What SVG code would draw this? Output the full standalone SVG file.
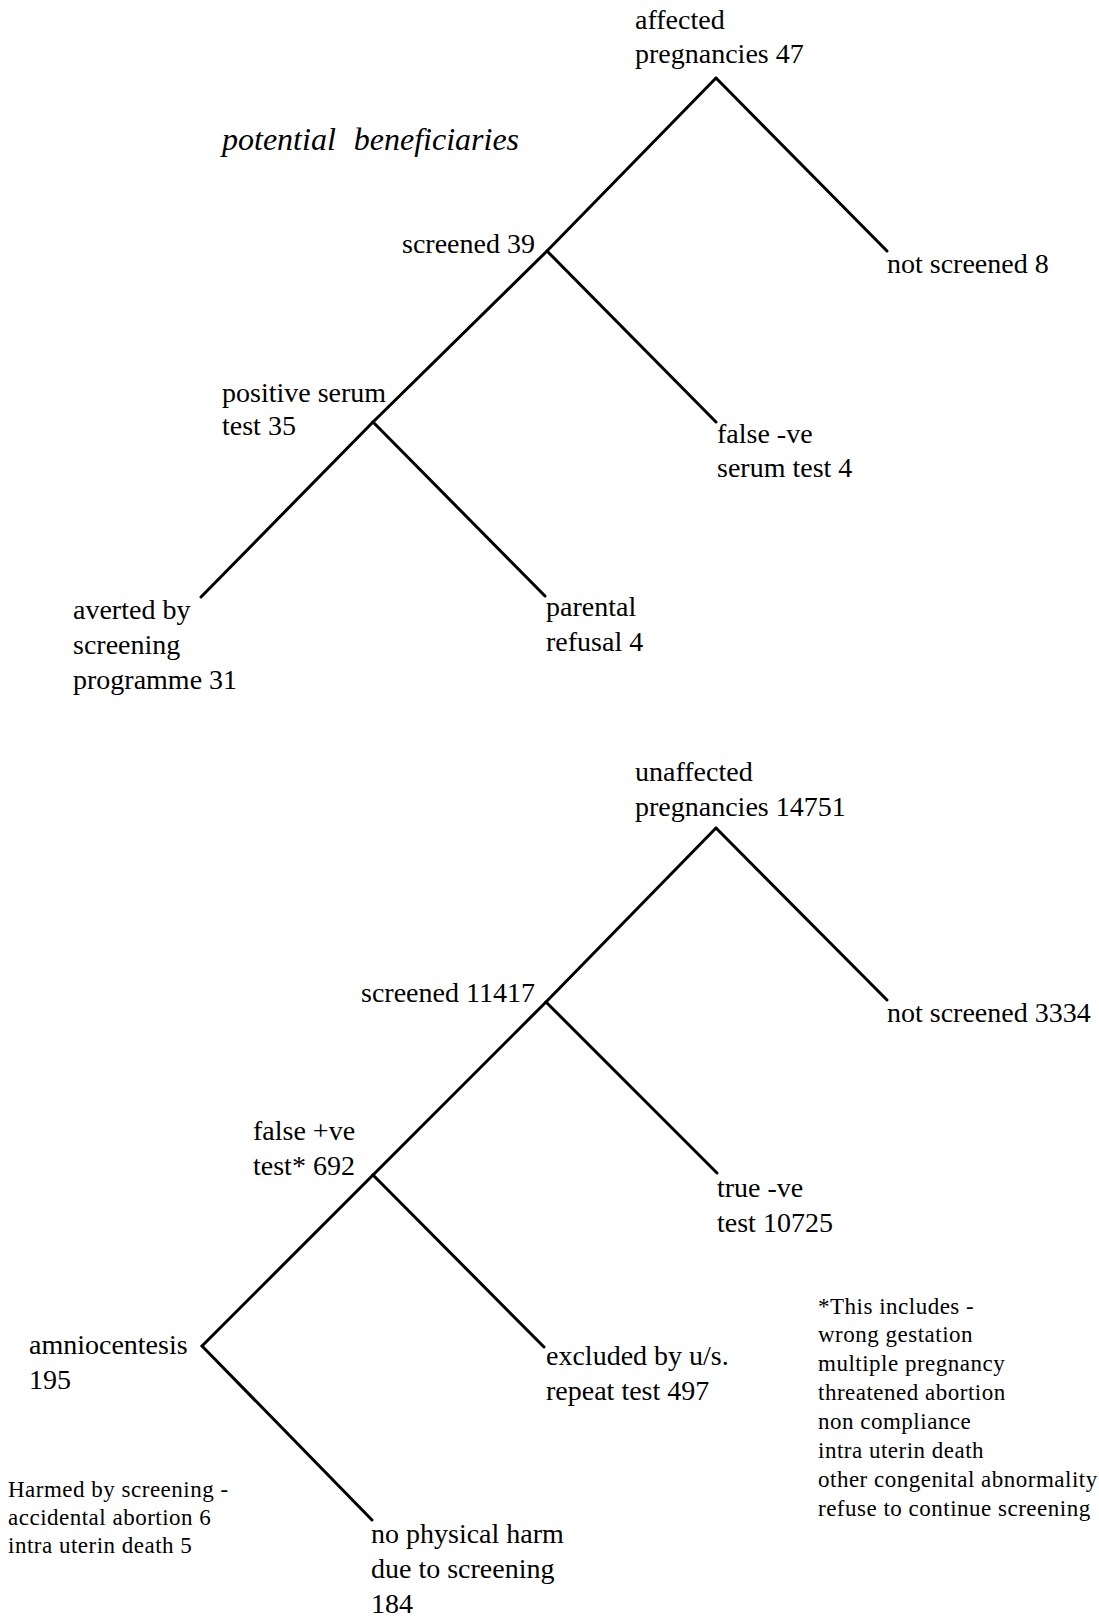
<svg xmlns="http://www.w3.org/2000/svg" width="1099" height="1618" viewBox="0 0 1099 1618">
<style>
.t{font-family:"Liberation Serif","Times New Roman",serif;font-size:28px;fill:#000}
.s{font-family:"Liberation Serif","Times New Roman",serif;font-size:23px;fill:#000;letter-spacing:0.5px}
.i{font-family:"Liberation Serif","Times New Roman",serif;font-size:32px;font-style:italic;fill:#000;word-spacing:10px}
.c line{stroke:#000;stroke-width:3;stroke-linecap:round}
</style>
<rect width="1099" height="1618" fill="#fff"/>
<g class="c" id="connectors">
<line x1="716" y1="78" x2="887" y2="251"/>
<line x1="716" y1="78" x2="547" y2="251"/>
<line x1="547" y1="251" x2="716" y2="422"/>
<line x1="547" y1="251" x2="373" y2="422"/>
<line x1="373" y1="422" x2="201" y2="597"/>
<line x1="373" y1="422" x2="545" y2="596"/>
<line x1="716" y1="828" x2="887" y2="1000"/>
<line x1="716" y1="828" x2="546" y2="1002"/>
<line x1="546" y1="1002" x2="717" y2="1173"/>
<line x1="546" y1="1002" x2="373" y2="1175"/>
<line x1="373" y1="1175" x2="202" y2="1346"/>
<line x1="373" y1="1175" x2="544" y2="1347"/>
<line x1="202" y1="1346" x2="372" y2="1520"/>
</g>
<text class="i" id="title" x="222" y="150">potential beneficiaries</text>
<g id="affected"><text class="t" x="635" y="29">affected</text><text class="t" x="635" y="63">pregnancies 47</text></g>
<g id="screened39"><text class="t" x="402" y="253">screened 39</text></g>
<g id="notscreened8"><text class="t" x="887" y="273">not screened 8</text></g>
<g id="positive"><text class="t" x="222" y="402">positive serum</text><text class="t" x="222" y="435">test 35</text></g>
<g id="falseneg"><text class="t" x="717" y="443">false -ve</text><text class="t" x="717" y="477">serum test 4</text></g>
<g id="averted"><text class="t" x="73" y="619">averted by</text><text class="t" x="73" y="654">screening</text><text class="t" x="73" y="689">programme 31</text></g>
<g id="parental"><text class="t" x="546" y="616">parental</text><text class="t" x="546" y="651">refusal 4</text></g>
<g id="unaffected"><text class="t" x="635" y="781">unaffected</text><text class="t" x="635" y="816">pregnancies 14751</text></g>
<g id="screened11417"><text class="t" x="361" y="1002">screened 11417</text></g>
<g id="notscreened3334"><text class="t" x="887" y="1022">not screened 3334</text></g>
<g id="falsepos"><text class="t" x="253" y="1140">false +ve</text><text class="t" x="253" y="1175">test* 692</text></g>
<g id="trueneg"><text class="t" x="717" y="1197">true -ve</text><text class="t" x="717" y="1232">test 10725</text></g>
<g id="amnio"><text class="t" x="29" y="1354">amniocentesis</text><text class="t" x="29" y="1389">195</text></g>
<g id="excluded"><text class="t" x="546" y="1365">excluded by u/s.</text><text class="t" x="546" y="1400">repeat test 497</text></g>
<g id="noharm"><text class="t" x="371" y="1543">no physical harm</text><text class="t" x="371" y="1578">due to screening</text><text class="t" x="371" y="1613">184</text></g>
<g id="harmed"><text class="s" x="8" y="1497">Harmed by screening -</text><text class="s" x="8" y="1525">accidental abortion 6</text><text class="s" x="8" y="1553">intra uterin death 5</text></g>
<g id="note">
<text class="s" x="818" y="1314">*This includes -</text>
<text class="s" x="818" y="1342">wrong gestation</text>
<text class="s" x="818" y="1371">multiple pregnancy</text>
<text class="s" x="818" y="1400">threatened abortion</text>
<text class="s" x="818" y="1429">non compliance</text>
<text class="s" x="818" y="1458">intra uterin death</text>
<text class="s" x="818" y="1487">other congenital abnormality</text>
<text class="s" x="818" y="1516">refuse to continue screening</text>
</g>
</svg>
